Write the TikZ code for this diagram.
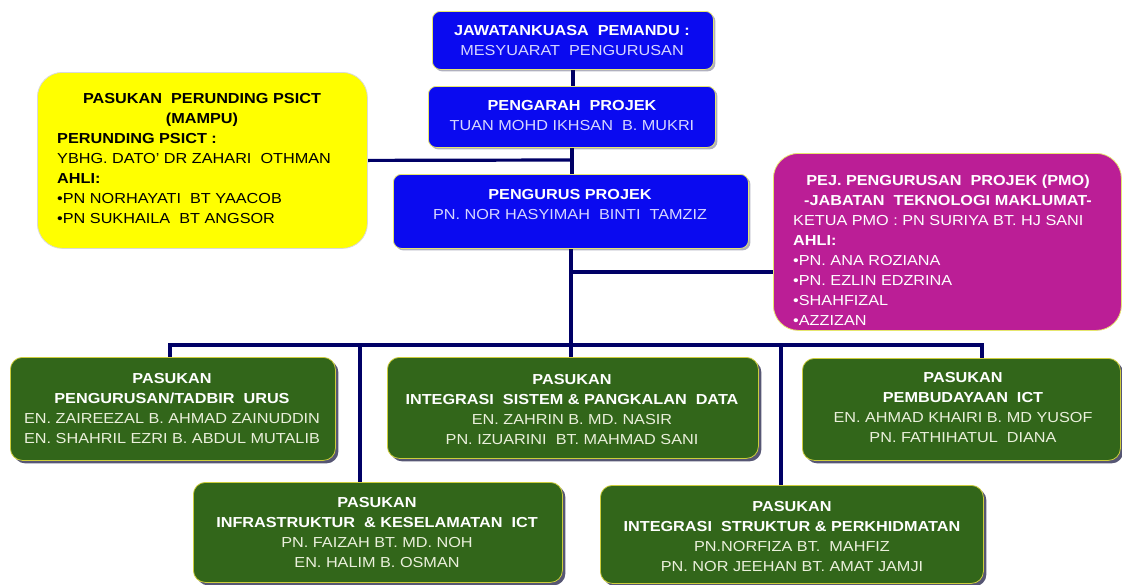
\documentclass[tikz,border=0pt]{standalone}
\usepackage{fontspec}
\setmainfont{Liberation Sans}[FakeStretch=1.12]
\usetikzlibrary{shadows,backgrounds}
\definecolor{bluefill}{RGB}{10,10,240}
\definecolor{blueline}{RGB}{230,230,110}
\definecolor{bluename}{RGB}{215,215,255}
\definecolor{yelfill}{RGB}{255,255,0}
\definecolor{magfill}{RGB}{187,30,150}
\definecolor{grnfill}{RGB}{50,102,26}
\definecolor{grnline}{RGB}{205,205,60}
\definecolor{grnname}{RGB}{235,240,220}
\definecolor{navy}{RGB}{0,0,102}
\definecolor{shadowc}{RGB}{30,30,70}
\tikzset{
  box/.style={draw, line width=0.8pt, inner sep=0pt, anchor=north west},
  bluebox/.style={box, fill=bluefill, draw=blueline, rounded corners=8pt,
     drop shadow={shadow xshift=2pt, shadow yshift=-2pt, fill=shadowc, opacity=0.35}},
  yelbox/.style={box, fill=yelfill, draw=black!15, rounded corners=25pt},
  magbox/.style={box, fill=magfill, draw=blueline, rounded corners=25pt},
  grnbox/.style={box, fill=grnfill, draw=grnline, rounded corners=12pt,
     drop shadow={shadow xshift=3pt, shadow yshift=-3pt, fill=shadowc, opacity=0.75}},
  txt/.style={align=center, inner sep=0pt, anchor=north, font=\fontsize{14.5}{20}\selectfont},
  ltxt/.style={align=left, inner sep=0pt, anchor=north west, font=\fontsize{14.5}{20}\selectfont},
  link/.style={draw=navy, line width=3.2pt}
}
\begin{document}
\begin{tikzpicture}[x=1pt,y=-1pt]
\useasboundingbox (0,0) rectangle (1122,584);

% top blue boxes
\node[bluebox, minimum width=281pt, minimum height=58pt] (jk) at (432,11) {};
\node[txt, text=white] (jkt) at (572,25.3) {\textbf{JAWATANKUASA\ \ PEMANDU :}\\\color{bluename}MESYUARAT\ \ PENGURUSAN};

\node[bluebox, minimum width=287pt, minimum height=61pt] (pg) at (428,86) {};
\node[txt, text=white] (pgt) at (572,99.8) {\textbf{PENGARAH\ \ PROJEK}\\\color{bluename}TUAN MOHD IKHSAN\ \ B. MUKRI};

\node[bluebox, minimum width=355pt, minimum height=74pt] (pm) at (393,174) {};
\node[txt, text=white] (pmt) at (570,189) {\textbf{PENGURUS PROJEK}\\\color{bluename}PN. NOR HASYIMAH\ \ BINTI\ \ TAMZIZ};

% yellow box
\node[yelbox, minimum width=330pt, minimum height=176pt] (yel) at (37,72) {};
\node[txt, text=black] (yelt) at (202,93) {\textbf{PASUKAN\ \ PERUNDING PSICT}\\\textbf{(MAMPU)}};
\node[ltxt, text=black] (yelb) at (57,133) {\textbf{PERUNDING PSICT :}\\YBHG. DATO’ DR ZAHARI\ \ OTHMAN\\\textbf{AHLI:}\\•PN NORHAYATI\ \ BT YAACOB\\•PN SUKHAILA\ \ BT ANGSOR};

% magenta box
\node[magbox, minimum width=348pt, minimum height=177pt] (mag) at (773,153) {};
\node[txt, text=white] (magt) at (948,175) {\textbf{PEJ. PENGURUSAN\ \ PROJEK (PMO)}\\\textbf{-JABATAN\ \ TEKNOLOGI MAKLUMAT-}};
\node[ltxt, text=white] (magb) at (793,215) {KETUA PMO : PN SURIYA BT. HJ SANI\\\textbf{AHLI:}\\•PN. ANA ROZIANA\\•PN. EZLIN EDZRINA\\•SHAHFIZAL\\•AZZIZAN};

% green boxes
\node[grnbox, minimum width=325pt, minimum height=103pt] (g1) at (10,357) {};
\node[txt, text=white] (g1t) at (172,373) {\textbf{PASUKAN}\\\textbf{PENGURUSAN/TADBIR\ \ URUS}\\\color{grnname}EN. ZAIREEZAL B. AHMAD ZAINUDDIN\\\color{grnname}EN. SHAHRIL EZRI B. ABDUL MUTALIB};

\node[grnbox, minimum width=371pt, minimum height=101pt] (g2) at (387,357) {};
\node[txt, text=white] (g2t) at (572,374) {\textbf{PASUKAN}\\\textbf{INTEGRASI\ \ SISTEM \& PANGKALAN\ \ DATA}\\\color{grnname}EN. ZAHRIN B. MD. NASIR\\\color{grnname}PN. IZUARINI\ \ BT. MAHMAD SANI};

\node[grnbox, minimum width=318pt, minimum height=102pt] (g3) at (802,358) {};
\node[txt, text=white] (g3t) at (963,372) {\textbf{PASUKAN}\\\textbf{PEMBUDAYAAN\ \ ICT}\\\color{grnname}EN. AHMAD KHAIRI B. MD YUSOF\\\color{grnname}PN. FATHIHATUL\ \ DIANA};

\node[grnbox, minimum width=369pt, minimum height=100pt] (g4) at (193,482) {};
\node[txt, text=white] (g4t) at (377,497) {\textbf{PASUKAN}\\\textbf{INFRASTRUKTUR\ \ \& KESELAMATAN\ \ ICT}\\\color{grnname}PN. FAIZAH BT. MD. NOH\\\color{grnname}EN. HALIM B. OSMAN};

\node[grnbox, minimum width=383pt, minimum height=98pt] (g5) at (600,485) {};
\node[txt, text=white] (g5t) at (792,501) {\textbf{PASUKAN}\\\textbf{INTEGRASI\ \ STRUKTUR \& PERKHIDMATAN}\\\color{grnname}PN.NORFIZA BT.\ \ MAHFIZ\\\color{grnname}PN. NOR JEEHAN BT. AMAT JAMJI};

% connectors
\coordinate (j1) at (570,160);
\coordinate (j2) at (570,272);
\coordinate (busL) at (170,345);
\coordinate (busR) at (982,345);
\coordinate (b4) at (360,345);
\coordinate (b5) at (781,345);
\begin{scope}[on background layer]
\draw[link] (jk.south) -- (jk.south |- pg.north);
\draw[link] (pg.south) -- (pg.south |- pm.north);
\draw[link] (yel.east) -- (j1);
\draw[link] (j2) -- (mag.west |- j2);
\draw[link] (pm.south) -- (pm.south |- g2.north);
\draw[link] (g1.north -| busL) -- (busL) -- (busR) -- (g3.north -| busR);
\draw[link] (b4) -- (b4 |- g4.north);
\draw[link] (b5) -- (b5 |- g5.north);
\end{scope}
\end{tikzpicture}
\end{document}
